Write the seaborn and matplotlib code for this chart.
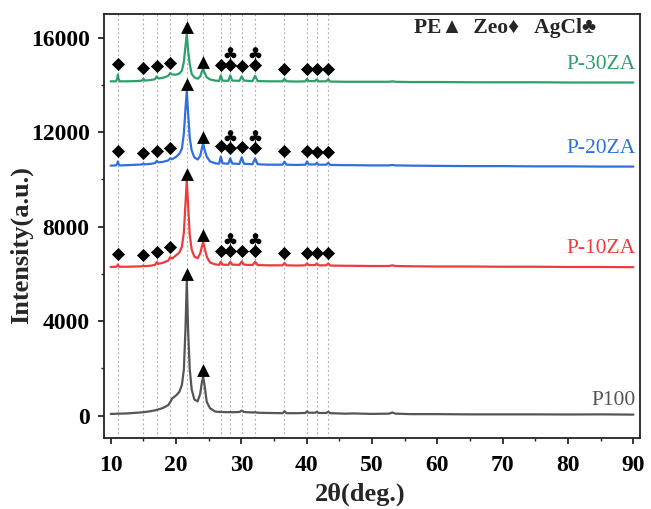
import numpy as np
import pandas as pd
import matplotlib
matplotlib.use("Agg")
import matplotlib.pyplot as plt
from matplotlib.ticker import MultipleLocator
import seaborn as sns

# ---------------- data ----------------
two_theta = [10.0, 10.8, 11.0, 11.1, 11.2, 11.4, 12.5, 14.0, 14.8, 15.0,
             15.2, 16.0, 16.8, 17.05, 17.3, 18.0, 18.8, 19.1, 19.4, 20.0,
             20.5, 20.9, 21.2, 21.45, 21.65, 21.85, 22.1, 22.4, 22.8, 23.3,
             23.7, 23.95, 24.15, 24.35, 24.7, 25.2, 26.0, 26.6, 26.85, 27.1,
             28.0, 28.3, 28.6, 29.7, 30.05, 30.4, 31.7, 32.1, 32.5, 34.0,
             36.3, 36.6, 36.9, 38.5, 39.8, 40.05, 40.3, 41.3, 41.55, 41.8,
             43.0, 43.3, 43.6, 46.0, 47.0, 50.0, 52.6, 53.1, 53.6, 56.0,
             60.0, 65.0, 70.0, 75.0, 80.0, 85.0, 90.0]

p100 = [70, 75, 80, 85, 80, 80, 90, 120, 135, 140,
        150, 180, 220, 240, 260, 320, 440, 560, 720, 850,
        1000, 1300, 1950, 3700, 5700, 3600, 1950, 1100, 680, 600,
        920, 1400, 1650, 1320, 580, 310, 170, 150, 160, 150,
        140, 150, 140, 150, 210, 150, 130, 140, 120, 110,
        100, 180, 100, 100, 110, 180, 120, 120, 160, 110,
        110, 160, 100, 80, 90, 70, 80, 130, 80, 60,
        60, 50, 50, 50, 45, 50, 40]

p10za = [6290, 6300, 6330, 6400, 6330, 6300, 6300, 6310, 6320, 6350,
         6325, 6340, 6380, 6500, 6420, 6470, 6560, 6700, 6650, 6780,
         6900, 7150, 7750, 9000, 9950, 8900, 7650, 7020, 6730, 6660,
         6860, 7150, 7350, 7120, 6730, 6480, 6400, 6380, 6510, 6390,
         6380, 6510, 6390, 6380, 6520, 6390, 6370, 6510, 6370, 6360,
         6360, 6460, 6360, 6350, 6360, 6450, 6370, 6370, 6440, 6360,
         6360, 6440, 6350, 6340, 6340, 6330, 6330, 6360, 6330, 6320,
         6310, 6310, 6300, 6300, 6290, 6290, 6280]

p20za = [10580, 10590, 10650, 10760, 10650, 10590, 10600, 10620, 10630, 10670,
         10635, 10650, 10690, 10780, 10720, 10740, 10800, 10890, 10850, 10950,
         11080, 11300, 11950, 13000, 13750, 12800, 11750, 11220, 10930, 10840,
         10990, 11300, 11530, 11270, 10960, 10760, 10680, 10660, 10970, 10680,
         10660, 10890, 10670, 10650, 10930, 10660, 10640, 10890, 10640, 10620,
         10620, 10750, 10620, 10610, 10620, 10760, 10630, 10630, 10700, 10620,
         10620, 10700, 10610, 10600, 10600, 10590, 10590, 10610, 10590, 10580,
         10570, 10560, 10560, 10550, 10550, 10540, 10540]

p30za = [14150, 14150, 14250, 14430, 14250, 14150, 14150, 14160, 14180, 14260,
         14185, 14200, 14240, 14360, 14270, 14300, 14380, 14500, 14440, 14430,
         14480, 14600, 14980, 15650, 16150, 15450, 14880, 14460, 14320, 14260,
         14350, 14560, 14700, 14530, 14320, 14230, 14180, 14170, 14400, 14180,
         14170, 14400, 14180, 14170, 14360, 14180, 14160, 14380, 14160, 14150,
         14150, 14250, 14150, 14140, 14150, 14250, 14160, 14160, 14230, 14150,
         14150, 14240, 14140, 14130, 14130, 14130, 14130, 14150, 14130, 14120,
         14120, 14110, 14110, 14110, 14100, 14100, 14100]

sample_names = ["P100", "P-10ZA", "P-20ZA", "P-30ZA"]
sample_colors = ["#555555", "#ee3b3b", "#2f6fe0", "#2e9e6a"]

pe_peaks = [21.65, 24.15]
zeo_peaks = [11.1, 15.0, 17.05, 19.1, 26.85, 28.3, 30.05, 32.1, 36.6, 40.05, 41.55, 43.3]
agcl_peaks = [28.3, 32.1]
ref_lines = [11.1, 15.0, 17.05, 19.1, 21.65, 24.15, 26.85, 28.3, 30.05, 32.1,
             36.6, 40.05, 41.55, 43.3]

x_ticks = [10, 20, 30, 40, 50, 60, 70, 80, 90]
y_ticks = [0, 4000, 8000, 12000, 16000]

# ---------------- figure ----------------
sns.set_theme(style="white")
plt.rcParams["font.family"] = ["Liberation Serif", "DejaVu Serif", "DejaVu Sans"]
plt.rcParams["mathtext.fontset"] = "dejavuserif"

fig = plt.figure(figsize=(6.51, 5.09), dpi=100)
ax = fig.add_axes([0.160, 0.1395, 0.823, 0.833])

curves = {"P100": p100, "P-10ZA": p10za, "P-20ZA": p20za, "P-30ZA": p30za}
df = pd.concat([pd.DataFrame({"two_theta": two_theta, "intensity": v, "sample": k})
                for k, v in curves.items()], ignore_index=True)

# reference dotted lines
for xv in ref_lines:
    ax.axvline(xv, color="#a8a8a8", lw=0.8, ls=(0, (1.5, 2.5)), zorder=0)

sns.lineplot(data=df, x="two_theta", y="intensity", hue="sample",
             palette=dict(zip(sample_names, sample_colors)), hue_order=sample_names,
             lw=1.6, legend=False, ax=ax, zorder=2, estimator=None, sort=False)

# peak markers
tri_rows, dia_rows, club_rows = [], [], []
for name in sample_names:
    y = curves[name]
    for p in pe_peaks:
        tri_rows.append({"x": p, "y": np.interp(p, two_theta, y) + 280})
    if name == "P100":
        continue
    for p in zeo_peaks:
        dia_rows.append({"x": p, "y": np.interp(p, two_theta, y) + 440})
    for p in agcl_peaks:
        club_rows.append({"x": p, "y": np.interp(p, two_theta, y) + 950})

sns.scatterplot(data=pd.DataFrame(tri_rows), x="x", y="y", marker="^", s=85,
                color="black", edgecolor="black", linewidth=0, ax=ax, zorder=4)
sns.scatterplot(data=pd.DataFrame(dia_rows), x="x", y="y", marker="D", s=38,
                color="black", edgecolor="black", linewidth=0.5, ax=ax, zorder=4)
sns.scatterplot(data=pd.DataFrame(club_rows), x="x", y="y", marker=r"$\clubsuit$", s=85,
                color="black", edgecolor="black", linewidth=0, ax=ax, zorder=4)

# sample labels
label_y = {"P100": 220, "P-10ZA": 6650, "P-20ZA": 10900, "P-30ZA": 14450}
for name, col in zip(sample_names, sample_colors):
    ax.text(90.4, label_y[name], name, color=col, fontsize=15.5,
            ha="right", va="bottom", zorder=5)

# phase legend
ax.text(0.748, 0.967, "PE\u25B2  Zeo\u2666   AgCl\u2663", transform=ax.transAxes,
        fontsize=15.5, fontweight="bold", ha="center", va="center",
        family=["Liberation Serif", "DejaVu Serif", "DejaVu Sans"])

ax.set_xlim(9.0, 91.0)
ax.set_ylim(-950, 17000)
ax.set_xticks(x_ticks)
ax.set_yticks(y_ticks)
ax.xaxis.set_minor_locator(MultipleLocator(5))
ax.yaxis.set_minor_locator(MultipleLocator(2000))
ax.tick_params(axis="both", which="major", direction="out", length=4.5, width=1.1,
               labelsize=17, colors="black", bottom=True, left=True)
ax.tick_params(axis="x", which="major", pad=8)
ax.tick_params(axis="y", which="major", pad=6)
ax.tick_params(axis="both", which="minor", direction="out", length=2.5, width=1.0,
               bottom=True, left=True)
for lab in ax.get_xticklabels() + ax.get_yticklabels():
    lab.set_fontweight("bold")

ax.set_xlabel("2\u03b8(deg.)", fontsize=19, fontweight="bold")
ax.set_ylabel("Intensity(a.u.)", fontsize=19, fontweight="bold")
ax.xaxis.set_label_coords(0.478, -0.105)
ax.yaxis.set_label_coords(-0.133, 0.455)

for sp in ax.spines.values():
    sp.set_visible(True)
    sp.set_color("#222222")
    sp.set_linewidth(1.3)

fig.savefig("out.png", dpi=100)
